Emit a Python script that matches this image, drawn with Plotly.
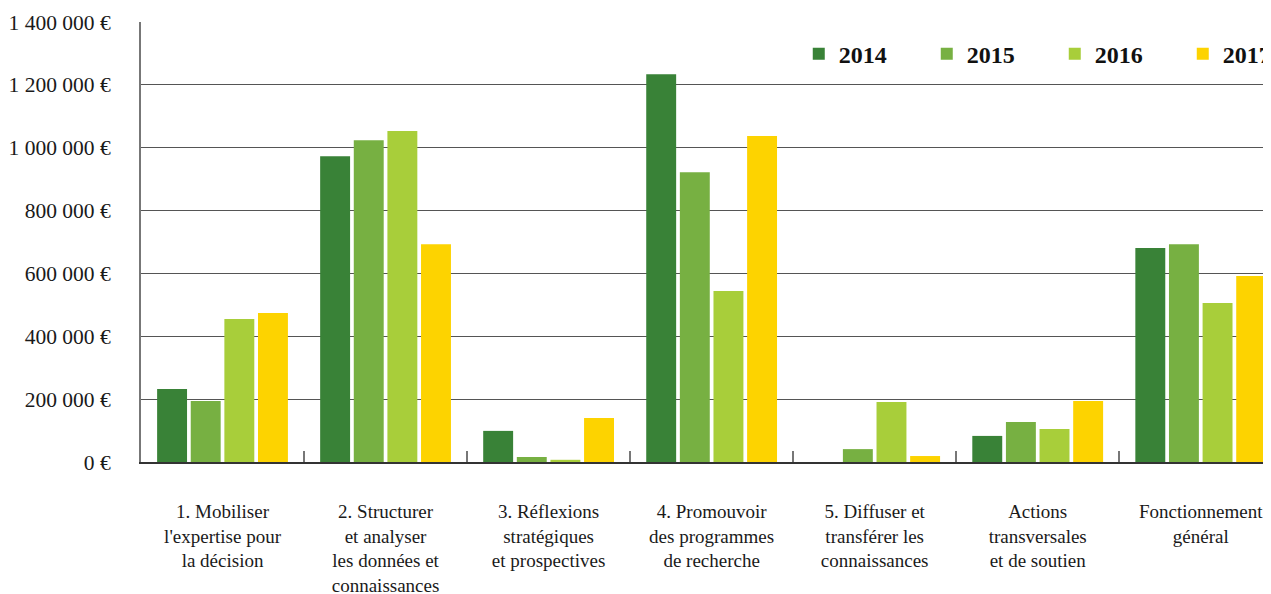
import plotly.graph_objects as go

categories = [
    "1. Mobiliser<br>l'expertise pour<br>la décision",
    "2. Structurer<br>et analyser<br>les données et<br>connaissances",
    "3. Réflexions<br>stratégiques<br>et prospectives",
    "4. Promouvoir<br>des programmes<br>de recherche",
    "5. Diffuser et<br>transférer les<br>connaissances",
    "Actions<br>transversales<br>et de soutien",
    "Fonctionnement<br>général",
]
years = ["2014", "2015", "2016", "2017"]
v2014 = [232000, 973000, 99000, 1234000, 0, 83000, 681000]
v2015 = [194000, 1024000, 16000, 922000, 41000, 127000, 693000]
v2016 = [455000, 1053000, 7000, 544000, 191000, 105000, 506000]
v2017 = [474000, 693000, 140000, 1037000, 19000, 194000, 592000]
series = [v2014, v2015, v2016, v2017]
colors = ["#398237", "#77B042", "#A8CE3A", "#FDD300"]

tick_vals = [0, 200000, 400000, 600000, 800000, 1000000, 1200000, 1400000]
tick_text = ["0 €", "200 000 €", "400 000 €", "600 000 €", "800 000 €",
             "1 000 000 €", "1 200 000 €", "1 400 000 €"]

serif = "Liberation Serif"

fig = go.Figure()
for name, vals, col in zip(years, series, colors):
    fig.add_trace(go.Bar(x=categories, y=vals, name=f"<b>{name}</b>", marker_color=col,
                         marker_line_width=0, hoverinfo="skip"))

fig.update_layout(
    width=1271, height=594,
    margin=dict(l=133, r=0, t=14, b=140, autoexpand=False),
    paper_bgcolor="white", plot_bgcolor="white",
    barmode="group", bargap=0.175, bargroupgap=0.11,
    font=dict(family=serif, color="#1a1a1a"),
    showlegend=True,
    legend=dict(
        orientation="h", x=0.578, y=0.978, xanchor="left", yanchor="top",
        font=dict(family=serif, size=24, color="#111"),
        entrywidth=83, entrywidthmode="pixels",
        bgcolor="rgba(0,0,0,0)", traceorder="normal",
    ),
)
fig.update_xaxes(
    type="category", range=[-0.5, 6.48], automargin=False,
    showline=True, linecolor="#333", linewidth=2,
    ticks="inside", tickson="boundaries", ticklen=11, tickcolor="#777", tickwidth=1.5,
    tickfont=dict(family=serif, size=19, color="#1a1a1a"),
    ticklabelstandoff=31, tickangle=0,
    showgrid=False,
)
fig.update_yaxes(
    range=[0, 1400000], tickvals=tick_vals, ticktext=tick_text, automargin=False,
    showgrid=True, gridcolor="#555", gridwidth=1,
    showline=True, linecolor="#777", linewidth=2,
    ticks="", ticklabelstandoff=24,
    tickfont=dict(family=serif, size=21.5, color="#1a1a1a"),
    zeroline=False,
)

fig.write_html("out.html")
